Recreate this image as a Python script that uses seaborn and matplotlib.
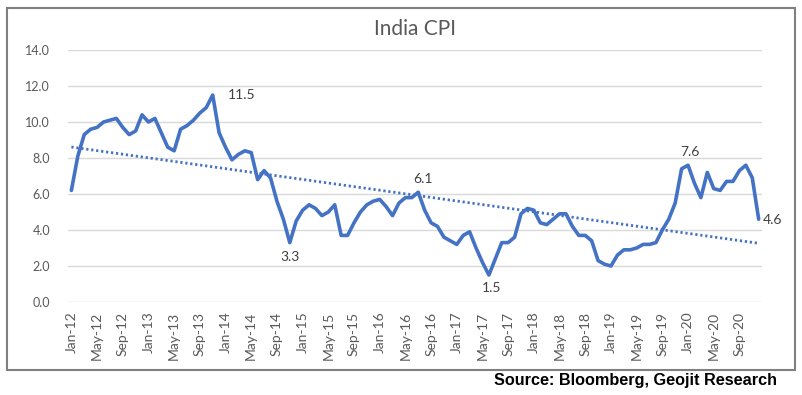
import numpy as np
import pandas as pd
import matplotlib
matplotlib.use("Agg")
import matplotlib.pyplot as plt
import seaborn as sns
from matplotlib.patches import Rectangle

# India CPI, y/y %, monthly Jan-12 .. Dec-20
cpi_2012 = [6.2, 8.1, 9.3, 9.6, 9.7, 10.0, 10.1, 10.2, 9.7, 9.3, 9.5, 10.4]
cpi_2013 = [10.0, 10.2, 9.4, 8.6, 8.4, 9.6, 9.8, 10.1, 10.5, 10.8, 11.5, 9.4]
cpi_2014 = [8.6, 7.9, 8.2, 8.4, 8.3, 6.8, 7.3, 6.9, 5.6, 4.6, 3.3, 4.5]
cpi_2015 = [5.1, 5.4, 5.2, 4.8, 5.0, 5.4, 3.7, 3.7, 4.4, 5.0, 5.4, 5.6]
cpi_2016 = [5.7, 5.3, 4.8, 5.5, 5.8, 5.8, 6.1, 5.1, 4.4, 4.2, 3.6, 3.4]
cpi_2017 = [3.2, 3.7, 3.9, 3.0, 2.2, 1.5, 2.4, 3.3, 3.3, 3.6, 4.9, 5.2]
cpi_2018 = [5.1, 4.4, 4.3, 4.6, 4.9, 4.9, 4.2, 3.7, 3.7, 3.4, 2.3, 2.1]
cpi_2019 = [2.0, 2.6, 2.9, 2.9, 3.0, 3.2, 3.2, 3.3, 4.0, 4.6, 5.5, 7.4]
cpi_2020 = [7.6, 6.6, 5.8, 7.2, 6.3, 6.2, 6.7, 6.7, 7.3, 7.6, 6.9, 4.6]

months = pd.date_range("2012-01-01", periods=108, freq="MS").strftime("%b-%y").tolist()
labelled = ["Nov-13", "Nov-14", "Jul-16", "Jun-17", "Jan-20", "Dec-20"]

cpi = (cpi_2012 + cpi_2013 + cpi_2014 + cpi_2015 + cpi_2016
       + cpi_2017 + cpi_2018 + cpi_2019 + cpi_2020)
df = pd.DataFrame({"month": months, "idx": range(len(months)), "cpi": cpi})

blue = "#4472C4"
grey = "#595959"

sns.set_style("white")
plt.rcParams["font.family"] = ["Lato", "DejaVu Sans"]

fig = plt.figure(figsize=(8.02, 3.95), dpi=100)
ax = fig.add_axes([0.085, 0.2354, 0.865, 0.638])

sns.regplot(data=df, x="idx", y="cpi", scatter=False, ci=None, ax=ax,
            line_kws=dict(color=blue, lw=2.0, ls=(0, (0.8, 1.0))))
sns.lineplot(data=df, x="idx", y="cpi", ax=ax, color=blue, lw=2.6)

ax.set_ylim(0, 14)
ax.set_xlim(-0.5, len(months) - 0.5)
ax.set_yticks(np.arange(0, 15, 2))
ax.set_yticklabels([f"{v:.1f}" for v in np.arange(0, 15, 2)])
ax.set_xticks(df["idx"][::4])
ax.set_xticklabels(df["month"][::4], rotation=90)
ax.tick_params(axis="both", length=0, labelcolor=grey)
ax.tick_params(axis="y", pad=13, labelsize=9)
ax.tick_params(axis="x", pad=7, labelsize=10)
ax.grid(axis="y", color="#d9d9d9", lw=1)
for s in ax.spines.values():
    s.set_visible(False)
ax.set_xlabel("")
ax.set_ylabel("")
ax.set_title("India CPI", fontsize=15, color=grey, pad=11)

offsets = {"Nov-13": (15, 0, "left"), "Nov-14": (0, -14, "center"),
           "Jul-16": (5, 13, "center"), "Jun-17": (3, -13, "center"),
           "Jan-20": (2, 13, "center"), "Dec-20": (4, -1, "left")}
for m in labelled:
    row = df[df["month"] == m].iloc[0]
    dx, dy, ha = offsets[m]
    ax.annotate(f"{row['cpi']:.1f}", (row["idx"], row["cpi"]),
                xytext=(dx, dy), textcoords="offset pixels",
                ha=ha, va="center", fontsize=10, color="#404040")

fig.add_artist(Rectangle((7 / 802, 25 / 395), 788 / 802, 362 / 395,
                         transform=fig.transFigure, fill=False,
                         edgecolor="#808080", lw=1.5))
fig.text(777 / 802, 1 - 381 / 395, "Source: Bloomberg, Geojit Research",
         ha="right", va="center", fontsize=11.7, fontweight="bold",
         family=["Liberation Sans", "DejaVu Sans"], color="black")

fig.savefig("out.png", dpi=100)
